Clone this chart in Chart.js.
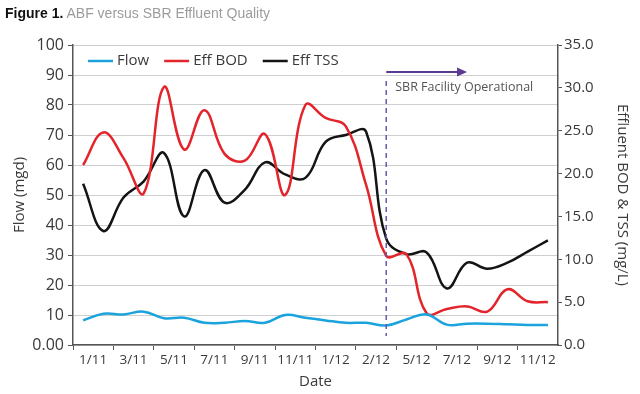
<!DOCTYPE html>
<html>
<head>
<meta charset="utf-8">
<script src="https://cdn.jsdelivr.net/npm/chart.js@4.4.1/dist/chart.umd.min.js"></script>
<style>
  html, body { margin: 0; padding: 0; background: #fff; }
  #wrap { position: relative; width: 640px; height: 394px; }
  #myChart { position: absolute; left: 0; top: 0; }
  #title {
    position: absolute; left: 5px; top: 5px;
    font: 14px "Liberation Sans", Arial, sans-serif;
    color: #9c9c9c; white-space: nowrap;
  }
  #title b { color: #111; }
</style>
</head>
<body>
<div id="wrap">
  <canvas id="myChart" width="640" height="394"></canvas>
  <div id="title"><b>Figure 1.</b> ABF versus SBR Effluent Quality</div>
</div>
<script>
// monthly samples, every other one gets a label on the axis
const dates = [
  "1/11", "2/11", "3/11", "4/11", "5/11", "6/11", "7/11", "8/11", "9/11", "10/11", "11/11", "12/11",
  "1/12", "1/12", "2/12", "3/12", "5/12", "6/12", "7/12", "8/12", "9/12", "10/12", "11/12", "12/12",
];
// Flow (mgd) - left axis
const flow = [8.2, 10.4, 10.2, 11.1, 8.9, 9.1, 7.4, 7.4, 8.0, 7.4, 10.0, 9.1,
  8.2, 7.4, 7.4, 6.5, 8.5, 10.2, 6.8, 7.1, 7.1, 6.9, 6.7, 6.7];
// Effluent BOD & TSS (mg/L) - right axis
const effBod = [21.0, 24.8, 21.8, 17.7, 30.1, 22.8, 27.4, 22.3, 21.5, 24.6, 17.5, 28.0,
  26.5, 25.5, 18.7, 10.4, 10.6, 3.7, 4.2, 4.5, 3.9, 6.5, 5.1, 5.0];
const effTss = [18.8, 13.3, 17.2, 19.1, 22.4, 15.0, 20.4, 16.6, 18.1, 21.3, 19.9, 19.5,
  23.7, 24.5, 24.9, 12.4, 10.6, 10.8, 6.6, 9.6, 8.9, 9.6, 10.9, 12.2];

const sbrStartIdx = 15; // SBR facility comes online here
const sbrArrowIdx = 19;

const font = "'Open Sans', sans-serif";
const axisColor = "#555";
const textColor = "#3a3a3a";

// legend drawn inside the plot area, one row in the top-left corner
const insideLegend = {
  id: "insideLegend",
  afterDraw(chart) {
    const { ctx, chartArea } = chart;
    let x = chartArea.left + 15;
    const y = chartArea.top + 16;
    ctx.save();
    ctx.font = "15px " + font;
    ctx.textBaseline = "middle";
    chart.data.datasets.forEach((ds) => {
      ctx.strokeStyle = ds.borderColor;
      ctx.lineWidth = 2.5;
      ctx.beginPath();
      ctx.moveTo(x, y);
      ctx.lineTo(x + 25, y);
      ctx.stroke();
      x += 29;
      ctx.fillStyle = textColor;
      ctx.fillText(ds.label, x, y);
      x += ctx.measureText(ds.label).width + 15;
    });
    ctx.restore();
  },
};

// dashed marker + arrow + text for SBR start
const sbrMarker = {
  id: "sbrMarker",
  afterDatasetsDraw(chart) {
    const { ctx, scales } = chart;
    const x = scales.x.getPixelForValue(sbrStartIdx);
    const xEnd = scales.x.getPixelForValue(sbrArrowIdx);
    const yTop = scales.y.getPixelForValue(88);
    const yBot = scales.y.getPixelForValue(3);
    const yArrow = scales.y.getPixelForValue(91);
    ctx.save();
    ctx.strokeStyle = "#6d55a8";
    ctx.lineWidth = 1.5;
    ctx.setLineDash([5, 4]);
    ctx.beginPath();
    ctx.moveTo(x, yTop);
    ctx.lineTo(x, yBot);
    ctx.stroke();
    ctx.setLineDash([]);
    ctx.strokeStyle = "#5b3a96";
    ctx.lineWidth = 2;
    ctx.beginPath();
    ctx.moveTo(x, yArrow);
    ctx.lineTo(xEnd - 8, yArrow);
    ctx.stroke();
    ctx.fillStyle = "#5b3a96";
    ctx.beginPath();
    ctx.moveTo(xEnd, yArrow);
    ctx.lineTo(xEnd - 10, yArrow - 4.5);
    ctx.lineTo(xEnd - 10, yArrow + 4.5);
    ctx.closePath();
    ctx.fill();
    ctx.fillStyle = "#555";
    ctx.font = "12.5px " + font;
    ctx.textBaseline = "middle";
    ctx.fillText("SBR Facility Operational", x + 9, scales.y.getPixelForValue(86));
    ctx.restore();
  },
};

const chartdata = {
  labels: dates,
  datasets: [
    {
      label: "Flow",
      data: flow,
      borderColor: "#1aa3dc",
      backgroundColor: "#1aa3dc",
      yAxisID: "y",
    },
    {
      label: "Eff BOD",
      data: effBod,
      borderColor: "#e3242b",
      backgroundColor: "#e3242b",
      yAxisID: "y1",
    },
    {
      label: "Eff TSS",
      data: effTss,
      borderColor: "#141414",
      backgroundColor: "#141414",
      yAxisID: "y1",
    },
  ],
};

const config = {
  type: "line",
  data: chartdata,
  plugins: [insideLegend, sbrMarker],
  options: {
    responsive: false,
    animation: false,
    layout: { padding: { top: 45 } },
    elements: {
      point: { radius: 0 },
      line: { tension: 0.4, borderWidth: 2.5 },
    },
    plugins: {
      tooltip: { enabled: false },
      legend: { display: false },
    },
    scales: {
      x: {
        offset: true,
        grid: {
          offset: true,
          drawOnChartArea: false,
          tickLength: 5,
          tickColor: (c) => (c.index % 2 === 0 ? axisColor : "rgba(0,0,0,0)"),
        },
        border: { color: axisColor, width: 1.5 },
        ticks: {
          autoSkip: false,
          maxRotation: 0,
          labelOffset: 10,
          padding: 2,
          color: textColor,
          font: { family: font, size: 13.5 },
          callback(v, i) {
            return i % 2 === 0 ? this.getLabelForValue(v) : "";
          },
        },
        title: {
          display: true,
          text: "Date",
          color: textColor,
          font: { family: font, size: 15 },
          padding: { top: 0, bottom: 3 },
        },
        afterFit: (s) => { s.height = 49; },
      },
      y: {
        position: "left",
        min: 0,
        max: 100,
        grid: { color: "#cfcfcf", tickColor: axisColor, tickLength: 5 },
        border: { color: axisColor, width: 1.5 },
        ticks: {
          stepSize: 10,
          padding: 4,
          color: textColor,
          font: { family: font, size: 16 },
          callback: (v) => (v === 0 ? "0.00" : v),
        },
        title: {
          display: true,
          text: "Flow (mgd)",
          color: textColor,
          font: { family: font, size: 15 },
          padding: { top: 11, bottom: 0 },
        },
        afterFit: (s) => { s.width = 73; },
      },
      y1: {
        position: "right",
        min: 0,
        max: 35,
        grid: { drawOnChartArea: false, tickColor: axisColor, tickLength: 4 },
        border: { color: axisColor, width: 1.5 },
        ticks: {
          stepSize: 5,
          padding: 2,
          color: textColor,
          font: { family: font, size: 15 },
          callback: (v) => v.toFixed(1),
        },
        title: {
          display: true,
          text: "Effluent BOD & TSS (mg/L)",
          color: textColor,
          font: { family: font, size: 15 },
          padding: { top: 9, bottom: 0 },
        },
        afterFit: (s) => { s.width = 82; },
      },
    },
  },
};

const ctx = document.querySelector("#myChart");
const myChart = new Chart(ctx, config);
</script>
</body>
</html>
